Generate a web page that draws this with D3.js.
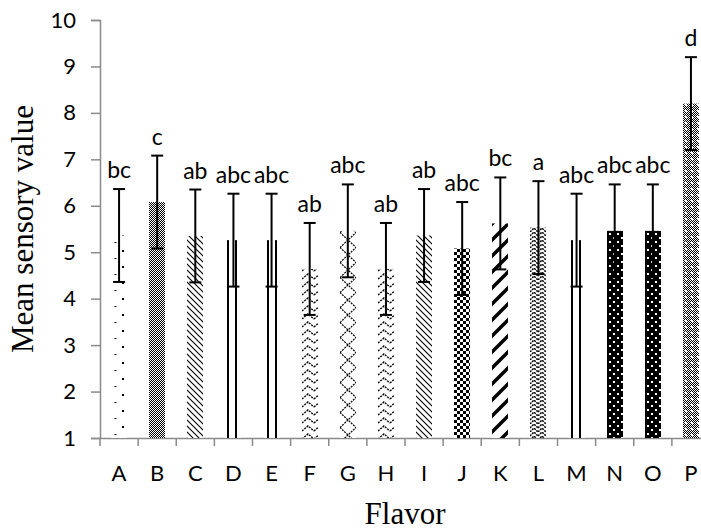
<!DOCTYPE html>
<html>
<head>
<meta charset="utf-8">
<script src="https://cdn.jsdelivr.net/npm/d3@7"></script>
<style>
  body { margin: 0; background: #fff; }
  svg { display: block; }
  .tick-lbl { font-family: Lato, "Open Sans", sans-serif; font-size: 22px; fill: #000; }
  .sig { font-family: Lato, "Open Sans", sans-serif; font-size: 23px; fill: #000; }
  .title { font-family: "Liberation Serif", "Times New Roman", serif; font-size: 31px; fill: #000; }
</style>
</head>
<body>
<div class="vis-barchart"></div>
<script>
const flavors = ['A','B','C','D','E','F','G','H','I','J','K','L','M','N','O','P'];
const means   = [5.36, 6.08, 5.35, 5.26, 5.26, 4.64, 5.46, 4.64, 5.36, 5.08, 5.62, 5.53, 5.26, 5.46, 5.46, 8.20];
const sds     = [1.00, 1.00, 1.00, 1.00, 1.00, 0.99, 1.00, 0.99, 1.00, 1.00, 0.99, 1.00, 1.00, 1.00, 1.00, 1.00];
const groups  = ['bc','c','ab','abc','abc','ab','abc','ab','ab','abc','bc','a','abc','abc','abc','d'];
const yTicks  = [1, 2, 3, 4, 5, 6, 7, 8, 9, 10];

// which hatch each bar gets (styling only)
const patternOf = {
    A: 'dots', B: 'fineCheck', C: 'diagDown', D: 'vlines', E: 'vlines', F: 'zigzag',
    G: 'diamond', H: 'zigzag', I: 'diagDown', J: 'check', K: 'stripeUp', L: 'weave',
    M: 'vlines', N: 'blackDots', O: 'blackDots', P: 'fineCheckDots'
};

const W = 701, H = 532;
const margin = {top: 20, right: -9, bottom: 94, left: 100};
const axisColor = '#8a8a8a';

const svg = d3.select('.vis-barchart').append('svg')
    .attr('width', W)
    .attr('height', H);

const x = d3.scaleBand()
    .domain(flavors)
    .range([margin.left, W - margin.right])
    .paddingInner(0)
    .paddingOuter(0);

const y = d3.scaleLinear()
    .domain([1, 10])
    .range([H - margin.bottom, margin.top]);

const barW = Math.round(x.bandwidth() * 0.42);
const barX = d => Math.round(x(d) + (x.bandwidth() - barW) / 2);

// ---- patterns ----
const defs = svg.append('defs');

const makePattern = (id, w, h, px, bg) => {
    const p = defs.append('pattern')
        .attr('id', id)
        .attr('patternUnits', 'userSpaceOnUse')
        .attr('x', px).attr('y', 0)
        .attr('width', w).attr('height', h);
    p.append('rect').attr('width', w).attr('height', h).attr('fill', bg || '#fff');
    return p;
};

const builders = {
    dots: (id, px) => {
        const p = makePattern(id, 16, 16, px);
        p.append('rect').attr('x', 3.5).attr('y', 2).attr('width', 2).attr('height', 1).attr('fill', '#000');
        p.append('rect').attr('x', 11).attr('y', 10).attr('width', 2).attr('height', 2).attr('fill', '#000');
    },
    fineCheck: (id, px) => {
        const p = makePattern(id, 2, 2, px, '#fff');
        p.append('rect').attr('width', 1).attr('height', 1).attr('fill', '#000');
        p.append('rect').attr('x', 1).attr('y', 1).attr('width', 1).attr('height', 1).attr('fill', '#000');
    },
    diagDown: (id, px) => {
        const p = makePattern(id, 6, 6, px);
        p.append('path')
            .attr('d', 'M0,0L6,6M-1,5L1,7M5,-1L7,1')
            .attr('stroke', '#000').attr('stroke-width', 1.1);
    },
    vlines: (id) => {
        const p = makePattern(id, 8, 8, 0);
        p.append('rect').attr('x', 3).attr('width', 2).attr('height', 8).attr('fill', '#000');
    },
    zigzag: (id, px) => {
        const p = makePattern(id, 12, 8, px);
        p.append('path')
            .attr('d', 'M0,7L6,2L12,7')
            .attr('fill', 'none')
            .attr('stroke', '#000').attr('stroke-width', 1.4)
            .attr('stroke-dasharray', '2,1');
    },
    diamond: (id, px) => {
        const p = makePattern(id, 16, 15, px);
        p.append('path')
            .attr('d', 'M0,7.5L8,0L16,7.5L8,15Z')
            .attr('fill', 'none')
            .attr('stroke', '#000').attr('stroke-width', 1.2)
            .attr('stroke-dasharray', '2,1');
    },
    check: (id, px) => {
        const p = makePattern(id, 6, 6, px);
        p.append('rect').attr('width', 3).attr('height', 3).attr('fill', '#000');
        p.append('rect').attr('x', 3).attr('y', 3).attr('width', 3).attr('height', 3).attr('fill', '#000');
    },
    stripeUp: (id, px) => {
        const p = makePattern(id, 16, 16, px);
        p.append('path')
            .attr('d', 'M0,16L16,0M-4,4L4,-4M12,20L20,12')
            .attr('stroke', '#000').attr('stroke-width', 3.5);
    },
    weave: (id, px) => {
        const p = makePattern(id, 8, 8, px);
        p.append('path')
            .attr('d', 'M0,4L4,0L8,4M0,8L4,4L8,8')
            .attr('fill', 'none')
            .attr('stroke', '#000').attr('stroke-width', 1.5)
            .attr('stroke-dasharray', '2,1');
    },
    blackDots: (id, px) => {
        const p = makePattern(id, 8, 8, px, '#000');
        p.append('rect').attr('x', 2).attr('y', 1).attr('width', 2).attr('height', 2).attr('fill', '#fff');
        p.append('rect').attr('x', 6).attr('y', 5).attr('width', 2).attr('height', 2).attr('fill', '#fff');
    },
    fineCheckDots: (id, px) => {
        const p = makePattern(id, 6, 6, px, '#fff');
        for (let i = 0; i < 6; i++) {
            for (let j = 0; j < 6; j++) {
                if ((i + j) % 2 === 0) {
                    p.append('rect').attr('x', i).attr('y', j).attr('width', 1).attr('height', 1).attr('fill', '#000');
                }
            }
        }
        p.append('rect').attr('x', 2).attr('y', 2).attr('width', 2).attr('height', 2).attr('fill', '#fff');
    }
};

flavors.forEach((f, i) => builders[patternOf[f]]('pat-' + i, barX(f)));

// ---- axes ----
const yAxis = d3.axisLeft(y)
    .tickValues(yTicks)
    .tickSize(9)
    .tickPadding(15)
    .tickFormat(d3.format('d'));

const gy = svg.append('g')
    .attr('transform', 'translate(' + margin.left + ',0)')
    .call(yAxis);
gy.attr('font-size', null).attr('font-family', null);
gy.select('.domain').attr('stroke', axisColor).attr('stroke-width', 1.5);
gy.selectAll('.tick line').attr('stroke', axisColor).attr('stroke-width', 1.5);
gy.selectAll('.tick text').attr('class', 'tick-lbl');

// x axis: labels centred, ticks at band edges
const xAxis = d3.axisBottom(x).tickSize(0).tickPadding(27);
const gx = svg.append('g')
    .attr('transform', 'translate(0,' + y(1) + ')')
    .call(xAxis);
gx.attr('font-size', null).attr('font-family', null);
gx.select('.domain').attr('stroke', axisColor).attr('stroke-width', 1.5);
gx.selectAll('.tick text').attr('class', 'tick-lbl');

gx.selectAll('.edge')
    .data(flavors.concat(['end']))
    .enter().append('line')
    .attr('class', 'edge')
    .attr('x1', d => d === 'end' ? x.range()[1] : x(d))
    .attr('x2', d => d === 'end' ? x.range()[1] : x(d))
    .attr('y1', 0).attr('y2', 8)
    .attr('stroke', axisColor).attr('stroke-width', 1.5);

// ---- bars ----
const rows = flavors.map((f, i) => ({f: f, i: i, m: means[i], sd: sds[i], g: groups[i]}));

svg.selectAll('.bar')
    .data(rows)
    .enter().append('rect')
    .attr('class', 'bar')
    .attr('x', d => barX(d.f))
    .attr('width', barW)
    .attr('y', d => y(d.m))
    .attr('height', d => y(1) - y(d.m))
    .attr('fill', d => 'url(#pat-' + d.i + ')');

// error bars
const cap = 6;
const cx = d => x(d.f) + x.bandwidth() / 2;
const eb = svg.selectAll('.err')
    .data(rows)
    .enter().append('g')
    .attr('class', 'err')
    .attr('stroke', '#000')
    .attr('stroke-width', 2);
eb.append('line')
    .attr('x1', cx).attr('x2', cx)
    .attr('y1', d => y(d.m + d.sd))
    .attr('y2', d => y(d.m - d.sd));
eb.append('line')
    .attr('x1', d => cx(d) - cap).attr('x2', d => cx(d) + cap)
    .attr('y1', d => y(d.m + d.sd))
    .attr('y2', d => y(d.m + d.sd));
eb.append('line')
    .attr('x1', d => cx(d) - cap).attr('x2', d => cx(d) + cap)
    .attr('y1', d => y(d.m - d.sd))
    .attr('y2', d => y(d.m - d.sd));

// significance letters
svg.selectAll('.sig')
    .data(rows)
    .enter().append('text')
    .attr('class', 'sig')
    .attr('text-anchor', 'middle')
    .attr('x', cx)
    .attr('y', d => y(d.m + d.sd) - 11)
    .text(d => d.g);

// axis titles
svg.append('text')
    .attr('class', 'title')
    .attr('text-anchor', 'middle')
    .attr('x', 405)
    .attr('y', 524)
    .text('Flavor');

svg.append('text')
    .attr('class', 'title')
    .attr('text-anchor', 'middle')
    .attr('font-size', 33)
    .attr('transform', 'translate(33,' + (margin.top + y(1)) / 2 + ') rotate(-90)')
    .text('Mean sensory value');
</script>
</body>
</html>
